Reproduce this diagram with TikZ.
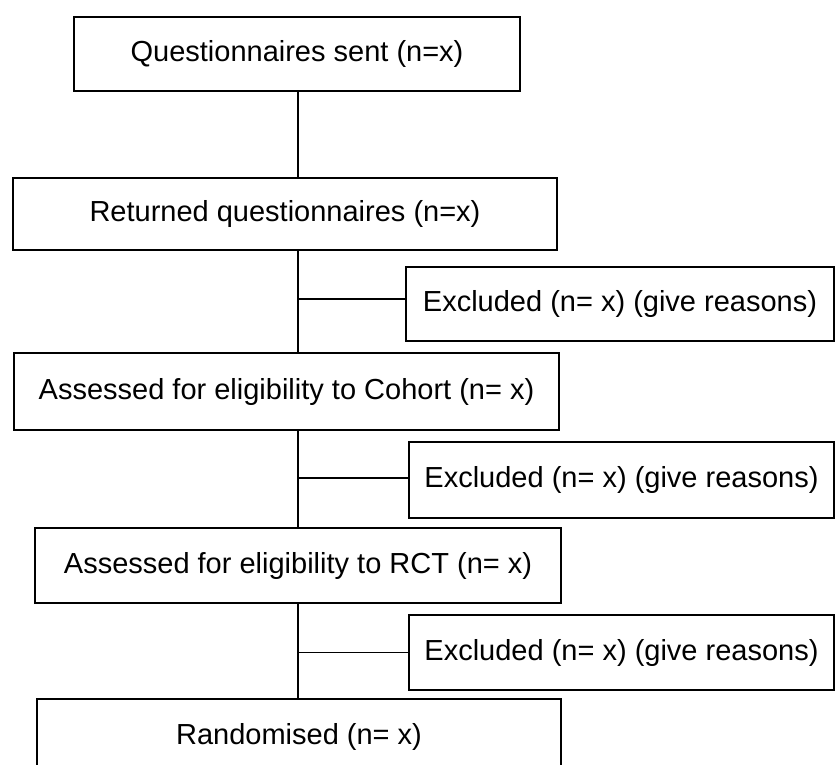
\documentclass[tikz,border=0pt]{standalone}
\usepackage{fontspec}
\setmainfont{Liberation Sans}
\begin{document}
\begin{tikzpicture}[x=1pt,y=-1pt,
  box/.style={draw=black,line width=1.6pt,rectangle,inner sep=0pt,
    font=\fontsize{29}{34}\selectfont,text=black},
  link/.style={draw=black,line width=1.5pt}]
\clip (0,0) rectangle (835,765);
\useasboundingbox (0,0) rectangle (835,765);
\fill[white] (0,0) rectangle (835,765);
\coordinate (spine) at (298,0);
\node[box,minimum width=446pt,minimum height=74pt] (b1) at (297,54) {Questionnaires sent (n=x)};
\node[box,minimum width=544pt,minimum height=72pt] (b2) at (285,214) {Returned questionnaires (n=x)};
\node[box,minimum width=428pt,minimum height=74pt] (e1) at (620,304) {Excluded (n= x) (give reasons)};
\node[box,minimum width=545pt,minimum height=77pt] (b3) at (286.5,391.5) {Assessed for eligibility to Cohort (n= x)};
\node[box,minimum width=425pt,minimum height=76pt] (e2) at (621.5,480) {Excluded (n= x) (give reasons)};
\node[box,minimum width=526pt,minimum height=75pt] (b4) at (298,565.5) {Assessed for eligibility to RCT (n= x)};
\node[box,minimum width=425pt,minimum height=75pt] (e3) at (621.5,652.5) {Excluded (n= x) (give reasons)};
\node[box,minimum width=524pt,minimum height=76pt] (b5) at (299,737) {Randomised (n= x)};
\draw[link] (b1.south -| spine) -- (b2.north -| spine);
\draw[link] (b2.south -| spine) -- (b3.north -| spine);
\draw[link] (b3.south -| spine) -- (b4.north -| spine);
\draw[link] (b4.south -| spine) -- (b5.north -| spine);
\draw[link] ([yshift=5pt]e1.west) -- ([yshift=5pt]e1.west -| spine);
\draw[link] ([yshift=2pt]e2.west) -- ([yshift=2pt]e2.west -| spine);
\draw[link] (e3.west) -- (e3.west -| spine);
\end{tikzpicture}
\end{document}
